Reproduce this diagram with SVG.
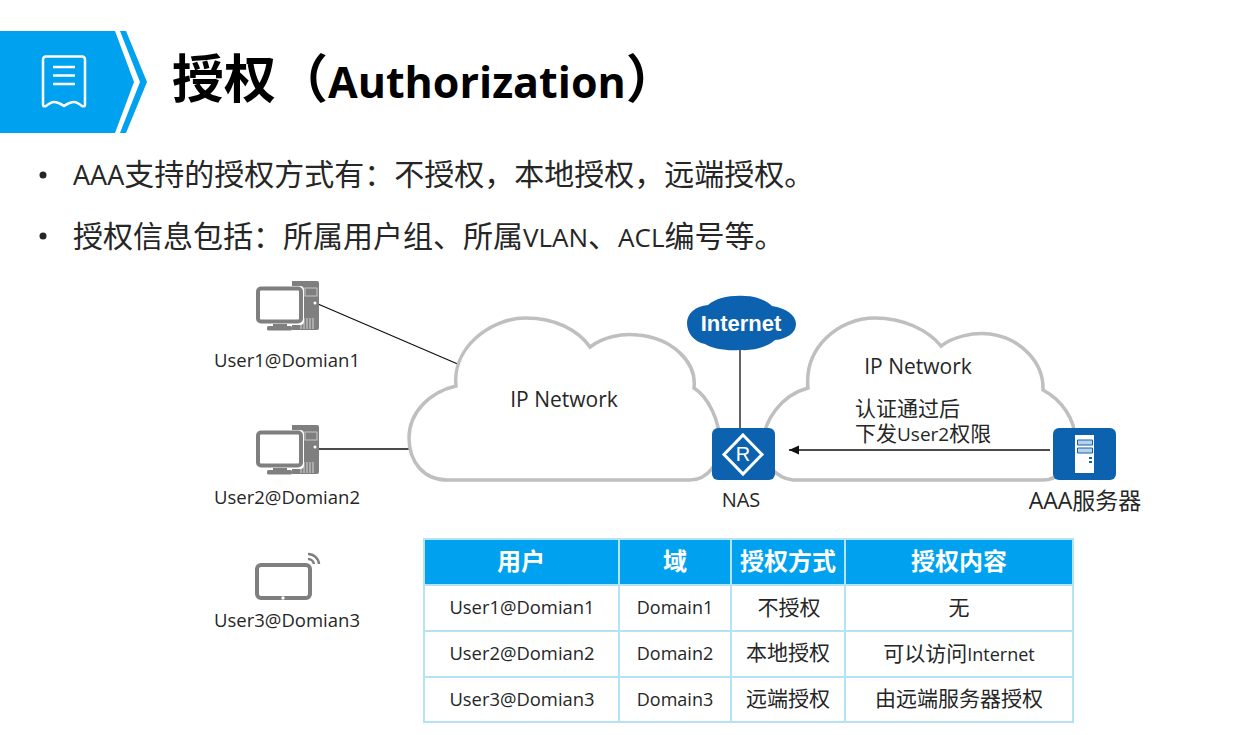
<svg xmlns="http://www.w3.org/2000/svg" width="1252" height="735" viewBox="0 0 1252 735">
<style>
text{font-family:"Open Sans","Noto Sans CJK SC",sans-serif;fill:#262626}
.b{font-size:30px}
.lat{font-size:26px}
.l{font-size:18.5px;text-anchor:middle}
.n{font-size:21px;text-anchor:middle}
.c{font-size:21px;text-anchor:middle}
.u{font-size:18.4px;text-anchor:middle}
.d{font-size:18px;text-anchor:middle}
.s{font-size:18px}
.h{font-size:24px;font-weight:700;text-anchor:middle;fill:#fff}
.pc{fill:#7f7f7f}
.cloud{fill:#fff;stroke:#bfbfbf;stroke-width:3.5}
.conn{stroke:#111;stroke-width:1.3;fill:none}
.grid{stroke:#b5e3f5;stroke-width:2;fill:none}
.blue{fill:#0d62b0}
</style>
<defs>
<marker id="ah" markerWidth="11" markerHeight="10" refX="10" refY="4.5" orient="auto" markerUnits="userSpaceOnUse"><path d="M0 0L10 4.5L0 9Z" fill="#111"/></marker>
<g id="pc">
<!-- tower -->
<path class="pc" d="M2 0H24a2 2 0 0 1 2 2V47a2 2 0 0 1-2 2H-1V0Z"/>
<rect x="12" y="7" width="12" height="8" fill="none" stroke="#c8c8c8" stroke-width="1"/>
<circle cx="22" cy="22" r="1.5" fill="#fff"/>
<path d="M8 37v11M11 37v11M14 37v11M17 37v11M20 37v11" stroke="#d8d8d8" stroke-width="1"/>
<!-- monitor -->
<rect x="-38" y="5" width="49" height="39" rx="4" fill="#fff"/>
<rect x="-35" y="7.5" width="43" height="33" rx="3" fill="#fff" stroke="#7f7f7f" stroke-width="4"/>
<rect x="-20" y="43" width="14" height="3" class="pc"/>
<rect x="-26" y="45" width="25" height="4.5" rx="1.5" class="pc"/>
</g>
</defs>

<g id="banner">
<path d="M0 31H115L134 82L115 133H0Z" fill="#00a2f0"/>
<path d="M120 31H126L147 82L126 133H120L140 82Z" fill="#00a2f0"/>
<path d="M46 56.500H82Q85 56.500 85 60V105Q85 107 82 106Q77 102 74 102Q70 102 64 106Q58 102 54 102Q51 102 46 106Q43 107 43 105V60Q43 56.500 46 56.500Z" fill="none" stroke="#fff" stroke-width="2.500" stroke-linejoin="round"/>
<path d="M53 67H75M53 75.500H75M53 84H75" stroke="#fff" stroke-width="2.500"/>
<text x="172" y="98" style="font-size:52px;font-weight:700;fill:#000">授权（<tspan style="font-size:43px">Authorization</tspan>）</text>
</g>

<g id="bullets">
<circle cx="43" cy="175" r="3.500" fill="#262626"/>
<text class="b" x="73" y="185"><tspan style="font-size:27px">AAA</tspan>支持的授权方式有：不授权，本地授权，远端授权。</text>
<circle cx="43" cy="236" r="3.500" fill="#262626"/>
<text class="b" x="73" y="247">授权信息包括：所属用户组、所属<tspan class="lat">VLAN</tspan>、<tspan class="lat">ACL</tspan>编号等。</text>
</g>

<g id="connectors-back">
<path class="conn" d="M318 304L460 365M318 449H413M740 348V432"/>
</g>

<g id="cloud-left">
<path class="cloud" d="M447 480C424 480 409 462 409 438C409 412 430 392 456 386C452 348 490 318 526 318C555 318 578 330 590 347C603 337 622 333 638 335C672 338 697 362 694 388C708 397 720 420 720 445C720 462 708 480 690 480Z"/>
<text x="564" y="407" class="n">IP Network</text>
</g>
<g id="cloud-right">
<path class="cloud" d="M793 480C775 478 763 462 763 445C763 420 782 395 808 388C804 348 838 318 875 318C903 318 928 330 941 346C953 337 972 332 990 334C1020 338 1044 362 1043 390C1062 400 1075 420 1075 438C1075 460 1064 480 1042 480Z"/>
<text x="918" y="374" class="n"><tspan>IP Network</tspan></text>
<text style="font-size:21px"><tspan x="855" y="416">认证通过后</tspan><tspan x="855" y="441">下发<tspan style="font-size:19px">User2</tspan>权限</tspan></text>
</g>

<g id="connectors">
<line class="conn" x1="1050" y1="450" x2="789" y2="450" marker-end="url(#ah)"/>
</g>

<g id="user1"><use href="#pc" x="293" y="281"/><text class="l" x="287" y="367">User1@Domian1</text></g>
<g id="user2"><use href="#pc" x="293" y="425"/><text class="l" x="287" y="504">User2@Domian2</text></g>
<g id="user3">
<rect x="257" y="565" width="53" height="33" rx="4" fill="#fff" stroke="#7f7f7f" stroke-width="4"/>
<circle cx="283" cy="598" r="1.700" fill="#fff"/>
<path d="M308 554A11 11 0 0 1 319 564" fill="none" stroke="#7f7f7f" stroke-width="2.500"/>
<path d="M308 559A6 6 0 0 1 314 564" fill="none" stroke="#7f7f7f" stroke-width="2.500"/>
<text class="l" x="287" y="627">User3@Domian3</text>
</g>

<g id="internet">
<path class="blue" d="M705 344C694 342 687 333 687 323C687 314 695 306 708 305C716 298 730 295 745 296C757 296 767 301 772 306C786 308 796 315 796 324C796 333 787 339 775 340C767 347 754 351 740 350C727 351 713 349 705 344Z"/>
<text x="741" y="331" text-anchor="middle" style="font-family:'Liberation Sans',sans-serif;font-size:22px;font-weight:700;fill:#fff">Internet</text>
</g>

<g id="nas">
<rect class="blue" x="712" y="428" width="63" height="52" rx="6"/>
<path d="M743 435L762 454.500L743 474L724 454.500Z" fill="none" stroke="#fff" stroke-width="3"/>
<text x="743" y="461" text-anchor="middle" style="font-family:'Liberation Sans',sans-serif;font-size:20px;fill:#fff">R</text>
<text class="l" x="741" y="507" style="font-size:20px">NAS</text>
</g>

<g id="aaa">
<rect class="blue" x="1053" y="428" width="63" height="52" rx="6"/>
<rect x="1075" y="435" width="19" height="38" fill="#fff"/>
<path d="M1077.500 440H1092.500V445H1077.500ZM1077.500 448H1092.500V453H1077.500Z" fill="#b9d2ea" stroke="#0d62b0" stroke-width="1"/>
<path d="M1089 457H1092V459H1089ZM1089 461H1092V463H1089Z" fill="#0d62b0"/>
<text class="l" x="1085" y="509" style="font-size:23px">AAA服务器</text>
</g>

<g id="table">
<rect x="424" y="539" width="649" height="46" fill="#00a2f0"/>
<path class="grid" d="M424 539H1073V722H424ZM424 585H1073M424 631H1073M424 677H1073M619 539V722M731 539V722M845 539V722"/>
<text class="h" x="521" y="570">用户</text><text class="h" x="675" y="570">域</text><text class="h" x="788" y="570">授权方式</text><text class="h" x="959" y="570">授权内容</text>
<text class="u" x="522" y="614">User1@Domian1</text><text class="d" x="675" y="614">Domain1</text><text class="c" x="789" y="615">不授权</text><text class="c" x="959" y="615">无</text>
<text class="u" x="522" y="660">User2@Domian2</text><text class="d" x="675" y="660">Domain2</text><text class="c" x="788" y="660">本地授权</text><text class="c" x="959" y="661">可以访问<tspan class="s">Internet</tspan></text>
<text class="u" x="522" y="706">User3@Domian3</text><text class="d" x="675" y="706">Domain3</text><text class="c" x="788" y="706">远端授权</text><text class="c" x="959" y="706">由远端服务器授权</text>
</g>
</svg>
